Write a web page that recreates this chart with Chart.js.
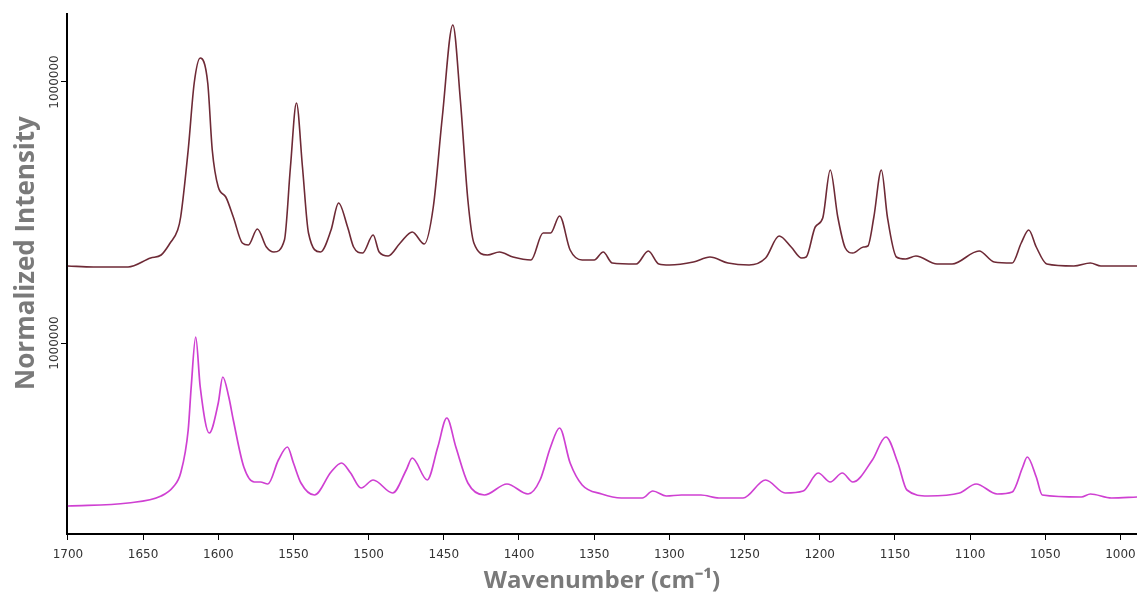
<!DOCTYPE html>
<html>
<head>
<meta charset="utf-8">
<script src="https://cdn.jsdelivr.net/npm/chart.js@4"></script>
<style>
  html, body { margin: 0; padding: 0; background: #fff; }
  canvas { display: block; }
</style>
</head>
<body>
<canvas id="spectra" width="1137" height="597"></canvas>
<script>
// upper spectrum (own zero, shifted up by OFFSET when drawn)
var upperWave = [1700, 1683, 1660, 1645, 1638, 1632, 1627, 1625, 1620, 1616, 1612, 1607, 1604, 1600, 1595, 1590, 1584, 1580,
    1574, 1568, 1563, 1556, 1552, 1548, 1544, 1540, 1532, 1525, 1520, 1514, 1510, 1504, 1497, 1493, 1487, 1479, 1471, 1463,
    1457, 1451, 1444, 1439, 1434, 1430, 1421, 1413, 1404, 1392, 1384, 1379, 1373, 1366, 1358, 1350, 1344, 1338, 1322, 1314,
    1307, 1300, 1284, 1273, 1261, 1247, 1236, 1227, 1219, 1212, 1209, 1203, 1198, 1193, 1188, 1183, 1178, 1171, 1168, 1164,
    1159, 1155, 1149, 1143, 1136, 1122, 1112, 1094, 1084, 1072, 1066, 1061, 1056, 1049, 1031, 1020, 1013, 989];
var upperInt = [80000, 75000, 75000, 120000, 135000, 195000, 260000, 325000, 660000, 995000, 1120000, 995000, 660000, 475000,
    425000, 325000, 195000, 185000, 265000, 175000, 150000, 210000, 575000, 895000, 575000, 245000, 150000, 260000, 395000,
    275000, 175000, 145000, 235000, 150000, 130000, 195000, 250000, 190000, 375000, 825000, 1285000, 910000, 410000, 195000,
    135000, 150000, 125000, 110000, 245000, 245000, 330000, 160000, 110000, 110000, 150000, 95000, 90000, 155000, 90000,
    85000, 100000, 125000, 95000, 85000, 120000, 230000, 175000, 120000, 125000, 275000, 320000, 560000, 325000, 170000,
    145000, 175000, 180000, 325000, 560000, 325000, 125000, 115000, 130000, 90000, 90000, 155000, 100000, 95000, 195000,
    260000, 175000, 90000, 80000, 95000, 80000, 80000];

// lower spectrum
var lowerWave = [1700, 1660, 1638, 1630, 1625, 1620, 1618, 1615, 1612, 1606, 1600, 1597, 1593, 1590, 1583, 1576, 1572, 1567,
    1560, 1554, 1550, 1545, 1536, 1525, 1518, 1512, 1505, 1497, 1484, 1475, 1471, 1461, 1454, 1448, 1442, 1434, 1423, 1408,
    1394, 1386, 1379, 1373, 1366, 1358, 1345, 1332, 1318, 1311, 1302, 1292, 1279, 1267, 1251, 1236, 1223, 1211, 1201, 1193,
    1185, 1178, 1165, 1156, 1148, 1142, 1128, 1107, 1096, 1082, 1072, 1065, 1062, 1056, 1052, 1026, 1020, 1006, 989];
var lowerInt = [185000, 200000, 235000, 280000, 350000, 565000, 780000, 1030000, 780000, 550000, 700000, 830000, 730000,
    615000, 380000, 305000, 305000, 295000, 415000, 480000, 400000, 300000, 240000, 355000, 400000, 350000, 275000, 315000,
    250000, 365000, 425000, 315000, 480000, 625000, 480000, 300000, 240000, 295000, 245000, 315000, 480000, 575000, 400000,
    290000, 245000, 225000, 225000, 260000, 235000, 240000, 240000, 225000, 225000, 315000, 250000, 260000, 350000, 305000,
    350000, 305000, 415000, 530000, 400000, 265000, 235000, 250000, 295000, 245000, 255000, 380000, 430000, 330000, 240000,
    230000, 245000, 225000, 230000];

var OFFSET = 1305000;          // vertical shift of the upper trace
var yTicks = [1000000, 1000000 + OFFSET];
var yTickText = ['1000000', '1000000'];
var xTitle = 'Wavenumber (cm\u207B\u00B9)';
var yTitle = 'Normalized Intensity';

function toPoints(wave, vals, shift){
    var pts = [];
    for (let i = 0; i < wave.length; i++) {
        pts.push({x: wave[i], y: vals[i] + shift});
    }
    return pts;
}

// rotated y tick labels centred on their ticks, and the y title
// (sits a bit above the axis middle in the original)
var yAxisText = {
    id: 'yAxisText',
    afterDraw(chart) {
        var s = chart.scales.y;
        var ctx = chart.ctx;
        ctx.save();
        ctx.textAlign = 'center';
        ctx.textBaseline = 'middle';
        ctx.font = '12px "DejaVu Sans"';
        ctx.fillStyle = '#333';
        for (let i = 0; i < yTicks.length; i++) {
            ctx.save();
            ctx.translate(s.right - 12, s.getPixelForValue(yTicks[i]));
            ctx.rotate(-Math.PI / 2);
            ctx.fillText(yTickText[i], 0, 0);
            ctx.restore();
        }
        ctx.font = 'bold 26px "Open Sans"';
        ctx.fillStyle = '#7a7a7a';
        ctx.translate(s.left + 27, (s.top + s.bottom) / 2 - 21);
        ctx.rotate(-Math.PI / 2);
        ctx.fillText(yTitle, 0, 0);
        ctx.restore();
    }
};

var ctx = document.getElementById('spectra').getContext('2d');

var chart = new Chart(ctx, {
    type: 'line',
    data: {
        datasets: [{
            label: 'upper',
            data: toPoints(upperWave, upperInt, OFFSET),
            borderColor: '#6e2a36',
            borderWidth: 1.6,
            pointRadius: 0,
            cubicInterpolationMode: 'monotone',
            fill: false
        },{
            label: 'lower',
            data: toPoints(lowerWave, lowerInt, 0),
            borderColor: '#cf40d2',
            borderWidth: 1.7,
            pointRadius: 0,
            cubicInterpolationMode: 'monotone',
            fill: false
        }]
    },
    options: {
        responsive: false,
        animation: false,
        devicePixelRatio: 1,
        layout: { autoPadding: false, padding: { top: 14, right: 0, left: 0, bottom: 0 } },
        plugins: {
            legend: { display: false },
            tooltip: { enabled: false }
        },
        scales: {
            x: {
                type: 'linear',
                reverse: true,
                min: 989,
                max: 1700.6,
                afterFit: function(scale) {
                    scale.height = 63;
                    scale.paddingLeft = 0;
                    scale.paddingRight = 0;
                },
                border: { color: '#000', width: 2 },
                grid: { drawOnChartArea: false, drawTicks: true, tickLength: 6, color: '#000' },
                ticks: {
                    stepSize: 50,
                    includeBounds: false,
                    autoSkip: false,
                    maxRotation: 0,
                    padding: 8,
                    color: '#333',
                    font: { family: '"DejaVu Sans"', size: 12 },
                    callback: function(v) { return String(v); }
                },
                title: {
                    display: true,
                    text: xTitle,
                    color: '#7a7a7a',
                    padding: { top: 0, bottom: 1 },
                    font: { family: '"Open Sans"', size: 24, weight: 'bold' }
                }
            },
            y: {
                min: 45000,
                max: 2645000,
                afterFit: function(scale) {
                    scale.width = 67;
                    scale.paddingTop = 0;
                    scale.paddingBottom = 0;
                },
                afterBuildTicks: function(scale) {
                    scale.ticks = yTicks.map(function(v){ return {value: v}; });
                },
                border: { color: '#000', width: 2 },
                grid: { drawOnChartArea: false, drawTicks: true, tickLength: 6, color: '#000' },
                ticks: { display: false },
                title: { display: false }
            }
        }
    },
    plugins: [yAxisText]
});
</script>
</body>
</html>
